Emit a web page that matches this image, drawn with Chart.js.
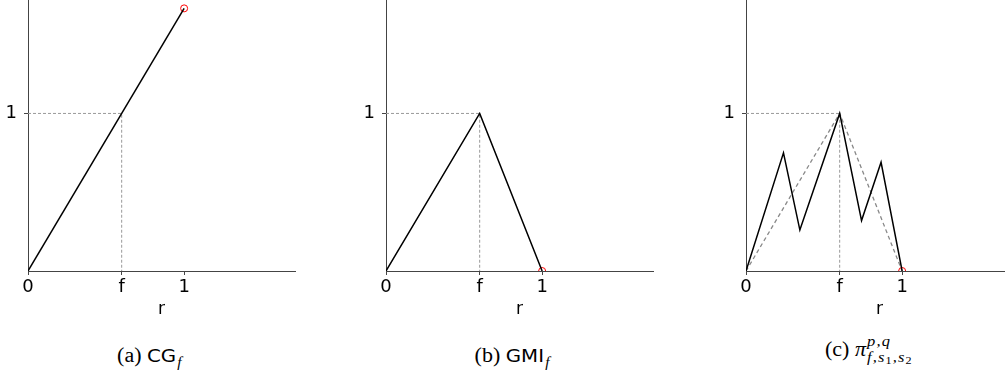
<!DOCTYPE html>
<html>
<head>
<meta charset="utf-8">
<script src="https://cdn.jsdelivr.net/npm/chart.js@4"></script>
<style>
  html, body { margin: 0; padding: 0; background: #fff; overflow: hidden; }
  body { width: 1005px; height: 377px; position: relative; }
  canvas { position: absolute; top: -17px; }
  .cap { position: absolute; top: 344px; width: 200px; text-align: center; font-family: "Liberation Serif", serif; font-size: 20px; color: #000; white-space: nowrap; }
  .cap > span.in { display: inline-block; transform: scaleX(1.1); transform-origin: center; }
  .sf { font-family: "DejaVu Sans", sans-serif; font-size: 18px; font-weight: normal; }
  .mi { font-style: italic; }
  .sub1 { font-size: 14px; font-style: italic; position: relative; top: 5px; margin-left: 1px; }
  .stack { display: inline-block; vertical-align: middle; line-height: 16px; font-size: 15px; font-style: italic; position: relative; top: -1px; margin-left: 1px; }
  .stack span { display: block; text-align: left; letter-spacing: 1px; }
  .stack sub { font-size: 11px; font-style: normal; vertical-align: -2px; }
</style>
</head>
<body>
<canvas id="cg" width="300" height="342" style="left:0px"></canvas>
<canvas id="gmi" width="300" height="342" style="left:358px"></canvas>
<canvas id="pi" width="300" height="342" style="left:718px"></canvas>

<div class="cap" style="left:49px"><span class="in">(a) <span class="sf">CG</span><span class="sub1">f</span></span></div>
<div class="cap" style="left:412px"><span class="in">(b) <span class="sf">GMI</span><span class="sub1">f</span></span></div>
<div class="cap" style="left:769px;top:334px"><span class="in">(c) <span class="mi">π</span><span class="stack"><span>p,q</span><span>f,s<sub>1</sub>,s<sub>2</sub></span></span></span></div>

<script>
// breakpoint f and axis ticks
const fVal = 0.6;
const xTickVals = [0, 0.6, 1];
const xTickLabels = ['0', 'f', '1'];
const yTickVals = [1];
const yTickLabels = ['1'];

// (a) CG_f
const cgX = [0, 1];
const cgY = [0, 1.667];

// (b) GMI_f
const gmiX = [0, 0.6, 1];
const gmiY = [0, 1, 0];

// (c) pi^{p,q}_{f,s1,s2}
const piX = [0, 0.24, 0.345, 0.6, 0.74, 0.865, 1];
const piY = [0, 0.75, 0.26, 1, 0.32, 0.69, 0];

// dashed guides to the point (f, 1)
const guideX = [0, 0.6, 0.6];
const guideY = [1, 1, 0];

function pts(xs, ys) {
    return xs.map(function(x, i) { return {x: x, y: ys[i]}; });
}

function lineSet(xs, ys) {
    return {data: pts(xs, ys), showLine: true, borderColor: '#000', borderWidth: 1.5,
            pointRadius: 0, order: 0};
}

function guideSet(xs, ys, color, dash, width) {
    return {data: pts(xs, ys), showLine: true, borderColor: color, borderWidth: width,
            borderDash: dash, pointRadius: 0, order: 2};
}

function markerSet(x, y) {
    return {data: [{x: x, y: y}], showLine: false, pointRadius: 3.5, pointBorderWidth: 1,
            pointBorderColor: '#f00', pointBackgroundColor: 'rgba(0,0,0,0)', order: 1};
}

function makePanel(id, datasets) {
    new Chart(document.getElementById(id), {
        type: 'scatter',
        data: {datasets: datasets},
        options: {
            responsive: false,
            animation: false,
            devicePixelRatio: 1,
            layout: {padding: {top: 0, right: 0, left: 0, bottom: 0}},
            plugins: {legend: {display: false}, tooltip: {enabled: false}},
            scales: {
                x: {
                    min: 0, max: 1.71,
                    afterBuildTicks: function(s) { s.ticks = xTickVals.map(function(v) { return {value: v}; }); },
                    afterFit: function(s) { s.height = 54; },
                    ticks: {
                        autoSkip: false, maxRotation: 0, padding: 2, color: '#000',
                        font: {family: 'DejaVu Sans', size: 18},
                        callback: function(v, i) { return xTickLabels[i]; }
                    },
                    grid: {drawOnChartArea: false, drawTicks: true, tickLength: 4, color: '#444'},
                    border: {display: true, color: '#444', width: 1},
                    title: {display: true, text: 'r', color: '#000', padding: {top: 0, bottom: 5},
                            font: {family: 'DejaVu Sans', size: 17}}
                },
                y: {
                    min: 0, max: 1.715,
                    afterBuildTicks: function(s) { s.ticks = yTickVals.map(function(v) { return {value: v}; }); },
                    afterFit: function(s) { s.width = 28; },
                    ticks: {
                        autoSkip: false, padding: 7, color: '#000',
                        font: {family: 'DejaVu Sans', size: 18},
                        callback: function(v, i) { return yTickLabels[i]; }
                    },
                    grid: {drawOnChartArea: false, drawTicks: true, tickLength: 4, color: '#444'},
                    border: {display: true, color: '#444', width: 1}
                }
            }
        }
    });
}

makePanel('cg', [
    lineSet(cgX, cgY),
    markerSet(1, 1.667),
    guideSet(guideX, guideY, '#999', [3, 2], 1)
]);

makePanel('gmi', [
    lineSet(gmiX, gmiY),
    markerSet(1, 0),
    guideSet(guideX, guideY, '#999', [3, 2], 1)
]);

makePanel('pi', [
    lineSet(piX, piY),
    markerSet(1, 0),
    guideSet(gmiX, gmiY, '#888', [4, 3], 1.3),
    guideSet(guideX, guideY, '#999', [3, 2], 1)
]);
</script>
</body>
</html>
